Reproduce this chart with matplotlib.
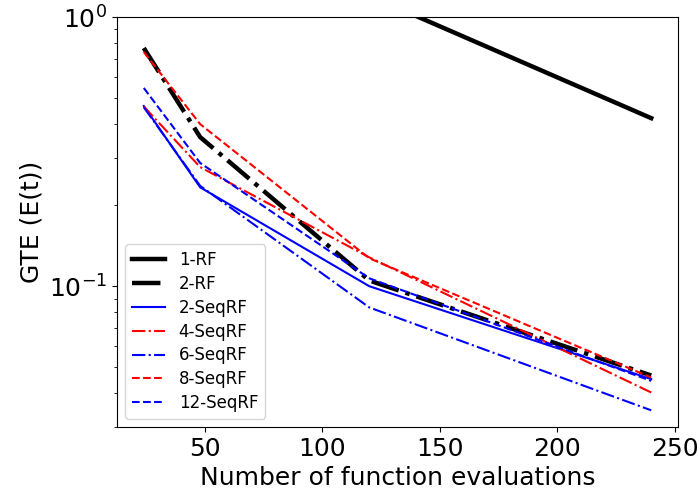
import matplotlib
matplotlib.use("Agg")
import matplotlib.pyplot as plt

# function evaluations
evals = [24, 48, 120, 240]

# GTE values
rf1 = [5.0, 2.5, 1.2, 0.421]
rf2 = [0.767, 0.358, 0.105, 0.0466]
seq2 = [0.467, 0.233, 0.100, 0.0452]
seq4 = [0.465, 0.277, 0.128, 0.0403]
seq6 = [0.462, 0.236, 0.0834, 0.0346]
seq8 = [0.741, 0.400, 0.127, 0.0458]
seq12 = [0.545, 0.287, 0.107, 0.0445]

plt.figure(figsize=(7, 4.98), dpi=100)
plt.plot(evals, rf1, color="black", linestyle="-", linewidth=3.2, label="1-RF")
plt.plot(evals, rf2, color="black", linestyle="-.", linewidth=3.2, label="2-RF")
plt.plot(evals, seq2, color="blue", linestyle="-", linewidth=1.5, label="2-SeqRF")
plt.plot(evals, seq4, color="red", linestyle="-.", linewidth=1.5, label="4-SeqRF")
plt.plot(evals, seq6, color="blue", linestyle="-.", linewidth=1.5, label="6-SeqRF")
plt.plot(evals, seq8, color="red", linestyle="--", linewidth=1.5, label="8-SeqRF")
plt.plot(evals, seq12, color="blue", linestyle="--", linewidth=1.5, label="12-SeqRF")

plt.yscale("log")
plt.ylim(0.030, 1.0)
plt.xlim(12.6, 251.4)
plt.xticks([50, 100, 150, 200, 250], fontsize=18)
plt.yticks(fontsize=18)
plt.xlabel("Number of function evaluations", fontsize=18)
plt.ylabel("GTE (E(t))", fontsize=18)
plt.legend(loc="lower left", fontsize=12, labelspacing=0.35)
plt.subplots_adjust(left=117 / 700, right=678 / 700, top=1 - 17 / 498, bottom=1 - 427 / 498)
plt.savefig("out.png", dpi=100)
